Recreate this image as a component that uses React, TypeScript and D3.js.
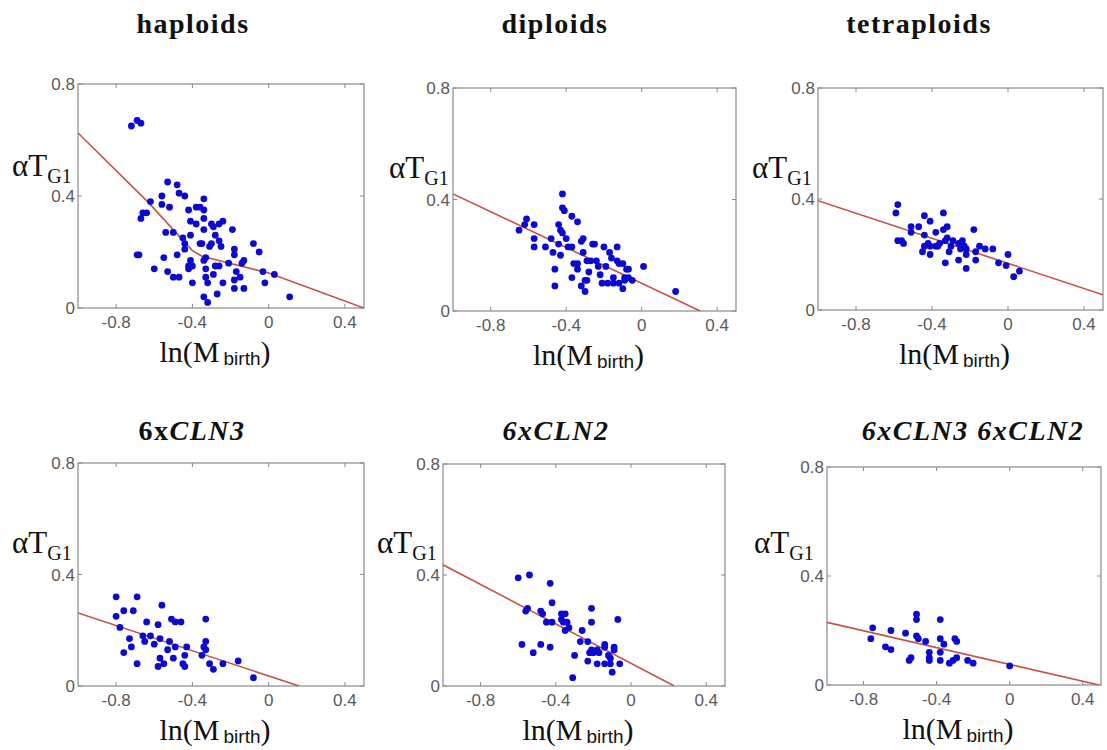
import React from "react";
import * as d3 from "d3";

// ---------- DATA ----------
const xTickValues = [-0.8, -0.4, 0, 0.4];
const xTickLabels = ["-0.8", "-0.4", "0", "0.4"];
const yTickValues = [0, 0.4, 0.8];
const yTickLabels = ["0", "0.4", "0.8"];

const haploidX = [-0.72, -0.69, -0.67, -0.69, -0.68, -0.67, -0.66, -0.64, -0.62, -0.6, -0.56, -0.56, -0.55, -0.54, -0.53, -0.53, -0.52, -0.5, -0.5, -0.48, -0.47, -0.48, -0.47, -0.44, -0.45, -0.44, -0.44, -0.42, -0.42, -0.42, -0.41, -0.41, -0.41, -0.4, -0.4, -0.38, -0.38, -0.36, -0.35, -0.36, -0.34, -0.34, -0.34, -0.34, -0.34, -0.34, -0.33, -0.33, -0.33, -0.32, -0.32, -0.31, -0.3, -0.3, -0.29, -0.29, -0.28, -0.28, -0.27, -0.26, -0.26, -0.26, -0.25, -0.24, -0.24, -0.21, -0.19, -0.18, -0.18, -0.18, -0.18, -0.17, -0.15, -0.14, -0.13, -0.13, -0.08, -0.05, -0.03, -0.02, 0.03, 0.11];
const haploidY = [0.65, 0.67, 0.66, 0.19, 0.19, 0.32, 0.34, 0.34, 0.38, 0.14, 0.4, 0.37, 0.18, 0.27, 0.45, 0.13, 0.36, 0.11, 0.27, 0.44, 0.41, 0.19, 0.11, 0.4, 0.25, 0.21, 0.23, 0.35, 0.15, 0.14, 0.31, 0.26, 0.17, 0.15, 0.09, 0.3, 0.36, 0.36, 0.23, 0.23, 0.17, 0.35, 0.39, 0.32, 0.28, 0.04, 0.11, 0.18, 0.14, 0.09, 0.02, 0.22, 0.23, 0.3, 0.29, 0.12, 0.15, 0.26, 0.05, 0.24, 0.15, 0.3, 0.22, 0.31, 0.09, 0.16, 0.28, 0.1, 0.07, 0.21, 0.19, 0.13, 0.11, 0.16, 0.07, 0.17, 0.23, 0.2, 0.13, 0.09, 0.12, 0.04];
const haploidFitX = [-1, -0.635, -0.4, -0.35, 0, 0.5];
const haploidFitY = [0.625, 0.38, 0.205, 0.185, 0.125, 0];

const diploidX = [-0.65, -0.62, -0.61, -0.57, -0.57, -0.57, -0.51, -0.48, -0.47, -0.46, -0.46, -0.44, -0.44, -0.43, -0.43, -0.42, -0.42, -0.42, -0.41, -0.4, -0.39, -0.37, -0.37, -0.37, -0.36, -0.34, -0.34, -0.34, -0.32, -0.32, -0.31, -0.31, -0.3, -0.3, -0.29, -0.29, -0.28, -0.27, -0.26, -0.25, -0.24, -0.23, -0.22, -0.21, -0.2, -0.19, -0.18, -0.17, -0.16, -0.15, -0.15, -0.13, -0.13, -0.12, -0.12, -0.1, -0.1, -0.09, -0.09, -0.08, -0.07, -0.05, -0.07, 0.01, 0.18];
const diploidY = [0.29, 0.31, 0.33, 0.31, 0.26, 0.23, 0.23, 0.26, 0.21, 0.09, 0.15, 0.31, 0.24, 0.2, 0.29, 0.28, 0.42, 0.37, 0.36, 0.26, 0.23, 0.34, 0.23, 0.12, 0.17, 0.32, 0.17, 0.15, 0.09, 0.25, 0.21, 0.26, 0.07, 0.11, 0.11, 0.18, 0.14, 0.18, 0.24, 0.24, 0.18, 0.16, 0.13, 0.1, 0.23, 0.16, 0.1, 0.21, 0.19, 0.12, 0.1, 0.23, 0.18, 0.1, 0.17, 0.17, 0.08, 0.12, 0.11, 0.15, 0.15, 0.11, 0.12, 0.16, 0.07];
const diploidFitX = [-1, 0.31];
const diploidFitY = [0.42, 0];

const tetraploidX = [-0.59, -0.58, -0.58, -0.56, -0.55, -0.51, -0.51, -0.47, -0.45, -0.44, -0.44, -0.44, -0.42, -0.41, -0.41, -0.41, -0.38, -0.38, -0.37, -0.36, -0.34, -0.34, -0.33, -0.33, -0.32, -0.32, -0.31, -0.3, -0.29, -0.26, -0.26, -0.25, -0.24, -0.23, -0.22, -0.22, -0.22, -0.18, -0.17, -0.17, -0.15, -0.12, -0.08, -0.05, -0.01, 0, 0.03, 0.06];
const tetraploidY = [0.35, 0.38, 0.25, 0.25, 0.24, 0.3, 0.28, 0.3, 0.21, 0.23, 0.34, 0.27, 0.24, 0.32, 0.2, 0.23, 0.28, 0.23, 0.23, 0.24, 0.35, 0.29, 0.25, 0.17, 0.3, 0.26, 0.21, 0.23, 0.25, 0.18, 0.24, 0.22, 0.25, 0.23, 0.22, 0.2, 0.15, 0.29, 0.18, 0.21, 0.23, 0.22, 0.22, 0.17, 0.16, 0.2, 0.12, 0.14];
const tetraploidFitX = [-1, 0.5];
const tetraploidFitY = [0.394, 0.055];

const cln3X = [-0.8, -0.8, -0.78, -0.76, -0.76, -0.73, -0.72, -0.71, -0.69, -0.69, -0.66, -0.65, -0.64, -0.62, -0.6, -0.58, -0.58, -0.57, -0.57, -0.56, -0.55, -0.53, -0.52, -0.51, -0.5, -0.49, -0.49, -0.46, -0.45, -0.44, -0.44, -0.43, -0.35, -0.34, -0.33, -0.33, -0.33, -0.31, -0.29, -0.24, -0.16, -0.08];
const cln3Y = [0.32, 0.25, 0.21, 0.12, 0.27, 0.17, 0.14, 0.27, 0.32, 0.08, 0.18, 0.16, 0.23, 0.18, 0.15, 0.07, 0.22, 0.17, 0.1, 0.29, 0.08, 0.13, 0.16, 0.24, 0.1, 0.14, 0.23, 0.23, 0.08, 0.07, 0.11, 0.14, 0.11, 0.14, 0.16, 0.24, 0.13, 0.08, 0.06, 0.08, 0.09, 0.03];
const cln3FitX = [-1, 0.16];
const cln3FitY = [0.262, 0];

const cln2X = [-0.6, -0.54, -0.58, -0.56, -0.55, -0.52, -0.48, -0.48, -0.47, -0.45, -0.43, -0.43, -0.42, -0.42, -0.37, -0.37, -0.36, -0.35, -0.35, -0.34, -0.33, -0.31, -0.3, -0.27, -0.26, -0.23, -0.23, -0.22, -0.21, -0.21, -0.21, -0.2, -0.18, -0.18, -0.17, -0.14, -0.14, -0.14, -0.12, -0.11, -0.11, -0.1, -0.09, -0.09, -0.07, -0.06];
const cln2Y = [0.39, 0.4, 0.15, 0.27, 0.28, 0.12, 0.15, 0.27, 0.26, 0.23, 0.37, 0.14, 0.3, 0.23, 0.26, 0.24, 0.23, 0.26, 0.2, 0.23, 0.21, 0.03, 0.11, 0.16, 0.2, 0.16, 0.09, 0.12, 0.28, 0.23, 0.13, 0.12, 0.13, 0.08, 0.12, 0.15, 0.14, 0.08, 0.11, 0.1, 0.08, 0.05, 0.13, 0.14, 0.24, 0.08];
const cln2FitX = [-1, 0.23];
const cln2FitY = [0.437, 0];

const bothX = [-0.76, -0.75, -0.68, -0.65, -0.65, -0.57, -0.55, -0.54, -0.51, -0.51, -0.51, -0.5, -0.46, -0.44, -0.44, -0.44, -0.38, -0.38, -0.38, -0.38, -0.36, -0.33, -0.31, -0.3, -0.29, -0.29, -0.23, -0.2, 0];
const bothY = [0.17, 0.21, 0.14, 0.2, 0.13, 0.19, 0.09, 0.1, 0.26, 0.24, 0.18, 0.17, 0.16, 0.12, 0.1, 0.09, 0.24, 0.17, 0.12, 0.09, 0.15, 0.08, 0.09, 0.17, 0.16, 0.1, 0.09, 0.08, 0.07];
const bothFitX = [-1, 0.49];
const bothFitY = [0.23, 0];

// ---------- LAYOUT ----------
type Title = { text: string; italic: boolean }[];
interface PanelSpec {
  left: number; top: number; right: number; bottom: number;
  xs: number[]; ys: number[]; fx: number[]; fy: number[];
  title: Title; titleX: number; titleY: number;
  ylabX: number; ylabY: number;
}

const panels: PanelSpec[] = [
  { left: 78, top: 84, right: 364, bottom: 308, xs: haploidX, ys: haploidY, fx: haploidFitX, fy: haploidFitY,
    title: [{ text: "haploids", italic: false }], titleX: 193, titleY: 33, ylabX: 12, ylabY: 176 },
  { left: 453, top: 88, right: 736, bottom: 311, xs: diploidX, ys: diploidY, fx: diploidFitX, fy: diploidFitY,
    title: [{ text: "diploids", italic: false }], titleX: 555, titleY: 33, ylabX: 389, ylabY: 178 },
  { left: 818, top: 88, right: 1103, bottom: 310, xs: tetraploidX, ys: tetraploidY, fx: tetraploidFitX, fy: tetraploidFitY,
    title: [{ text: "tetraploids", italic: false }], titleX: 919, titleY: 33, ylabX: 752, ylabY: 178 },
  { left: 78, top: 463, right: 364, bottom: 686, xs: cln3X, ys: cln3Y, fx: cln3FitX, fy: cln3FitY,
    title: [{ text: "6x", italic: false }, { text: "CLN3", italic: true }], titleX: 192, titleY: 440, ylabX: 12, ylabY: 553 },
  { left: 443, top: 464, right: 725, bottom: 686, xs: cln2X, ys: cln2Y, fx: cln2FitX, fy: cln2FitY,
    title: [{ text: "6xCLN2", italic: true }], titleX: 556, titleY: 440, ylabX: 377, ylabY: 553 },
  { left: 827, top: 467, right: 1101, bottom: 685, xs: bothX, ys: bothY, fx: bothFitX, fy: bothFitY,
    title: [{ text: "6xCLN3 6xCLN2", italic: true }], titleX: 973, titleY: 440, ylabX: 754, ylabY: 553 },
];

const FRAME = "#8a8a8a";
const TICKTXT = "#5a5a5a";
const DOT = "#0a0ad2";
const FIT = "#c8504a";
const SERIF = "'Liberation Serif', 'Times New Roman', serif";
const SANS = "'Liberation Sans', Arial, sans-serif";

function Panel({ p, idx }: { p: PanelSpec; idx: number }) {
  const x = d3.scaleLinear().domain([-1, 0.5]).range([p.left, p.right]);
  const y = d3.scaleLinear().domain([0, 0.8]).range([p.bottom, p.top]);
  const line = d3.line<number>().x((_, i) => x(p.fx[i])).y((_, i) => y(p.fy[i]));
  const tl = 4;
  const cx = (p.left + p.right) / 2 - 6;
  return (
    <g>
      <defs>
        <clipPath id={`clip${idx}`}>
          <rect x={p.left} y={p.top} width={p.right - p.left} height={p.bottom - p.top} />
        </clipPath>
      </defs>
      <rect x={p.left} y={p.top} width={p.right - p.left} height={p.bottom - p.top} fill="white" stroke={FRAME} strokeWidth={1.2} />
      {xTickValues.map((v, i) => (
        <g key={"xt" + i}>
          <line x1={x(v)} x2={x(v)} y1={p.bottom} y2={p.bottom - tl} stroke={FRAME} />
          <line x1={x(v)} x2={x(v)} y1={p.top} y2={p.top + tl} stroke={FRAME} />
          <text x={x(v)} y={p.bottom + 20} textAnchor="middle" fontFamily={SANS} fontSize={17} fill={TICKTXT}>{xTickLabels[i]}</text>
        </g>
      ))}
      {yTickValues.map((v, i) => (
        <g key={"yt" + i}>
          <line x1={p.left} x2={p.left + tl} y1={y(v)} y2={y(v)} stroke={FRAME} />
          <line x1={p.right} x2={p.right - tl} y1={y(v)} y2={y(v)} stroke={FRAME} />
          <text x={p.left - 3} y={y(v) + 6} textAnchor="end" fontFamily={SANS} fontSize={17} fill={TICKTXT}>{yTickLabels[i]}</text>
        </g>
      ))}
      <g clipPath={`url(#clip${idx})`}>
        <path d={line(p.fx) || ""} fill="none" stroke={FIT} strokeWidth={1.6} />
        {p.xs.map((v, i) => (
          <circle key={i} cx={x(v)} cy={y(p.ys[i])} r={3.4} fill={DOT} />
        ))}
      </g>
      <text x={p.titleX} y={p.titleY} textAnchor="middle" fontFamily={SERIF} fontWeight="bold" fontSize={28} letterSpacing={1.5} fill="#111">
        {p.title.map((t, i) => (
          <tspan key={i} fontStyle={t.italic ? "italic" : "normal"}>{t.text}</tspan>
        ))}
      </text>
      <text x={p.ylabX} y={p.ylabY} fontFamily={SERIF} fontSize={31} fill="#111">
        <tspan>αT</tspan>
        <tspan fontSize={20} dy={7}>G1</tspan>
      </text>
      <text x={cx} y={p.bottom + 54} textAnchor="middle" fill="#111">
        <tspan fontFamily={SERIF} fontSize={30}>ln(M</tspan>
        <tspan fontFamily={SANS} fontSize={19} dy={3} dx={4}>birth</tspan>
        <tspan fontFamily={SERIF} fontSize={30} dy={-3}>)</tspan>
      </text>
    </g>
  );
}

export default function App() {
  return (
    <svg width={1107} height={750} style={{ position: "absolute", left: 0, top: 0, background: "white" }}>
      {panels.map((p, i) => (
        <Panel key={i} p={p} idx={i} />
      ))}
    </svg>
  );
}
